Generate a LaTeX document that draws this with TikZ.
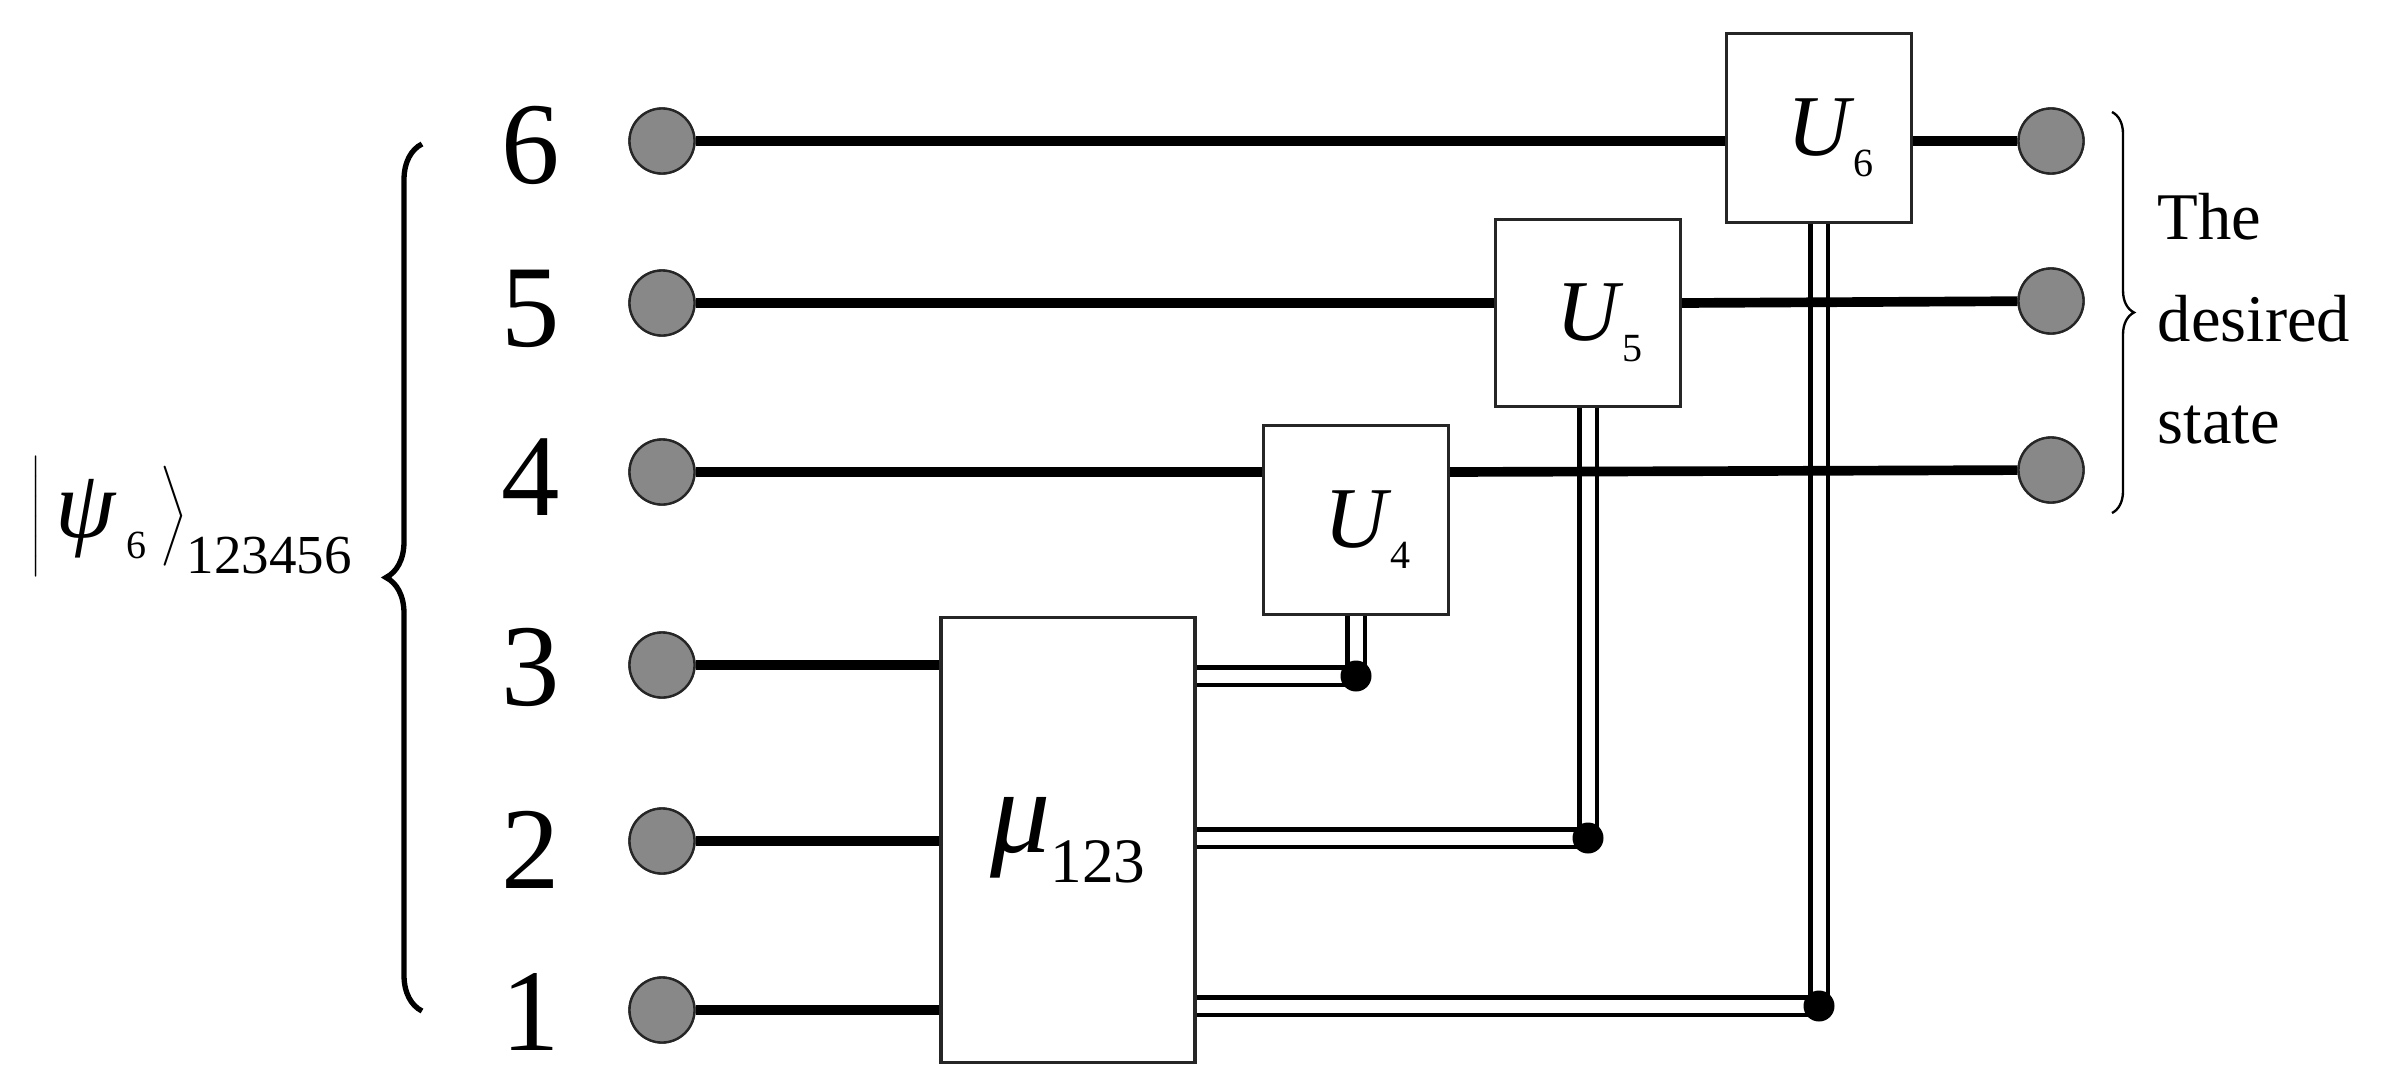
\documentclass[tikz,border=0pt]{standalone}
\usepackage{fontspec}
\setmainfont{Liberation Serif}
\usetikzlibrary{decorations.pathreplacing}
\tikzset{
  wire/.style={line width=2.9pt, black},
  qbit/.style={circle, draw=black!85, line width=0.7pt, fill={rgb,255:red,136;green,136;blue,136}, minimum size=19.5pt, inner sep=0pt},
  gatebox/.style={draw=black!85, line width=1pt, fill=white, inner sep=0pt},
  cwire/.style={draw=black, double=white, double distance=3.9pt, line width=1.35pt},
  cdot/.style={circle, fill=black, minimum size=9.3pt, inner sep=0pt},
  numlabel/.style={font=\fontsize{35}{40}\selectfont, inner sep=0pt},
  bracestyle/.style={decorate, decoration={brace, amplitude=#1}},
}
\newcommand{\ugate}[1]{{\fontsize{26}{30}\selectfont\itshape U}\rlap{\kern1pt\raisebox{-6.3pt}[0pt][0pt]{\fontsize{12}{14}\selectfont #1}}}
\begin{document}
\begin{tikzpicture}[x=0.3pt,y=-0.3pt]
\useasboundingbox (0,0) rectangle (2381,1092);
\fill[white] (0,0) rectangle (2381,1092);

% coordinates of classical wire levels
\coordinate (c3) at (0,676);
\coordinate (c2) at (0,838);
\coordinate (c1) at (0,1006);

% gate boxes (placed first for naming, drawn again later on top)
\path (1068,840) node[gatebox, minimum width=76.2pt, minimum height=133.5pt] (mu) {};
\path (1356,520) node[gatebox, minimum width=55.5pt, minimum height=56.7pt] (u4) {};
\path (1588,313) node[gatebox, minimum width=55.5pt, minimum height=56.1pt] (u5) {};
\path (1819,128) node[gatebox, minimum width=55.5pt, minimum height=56.7pt] (u6) {};

% qubit circles
\node[qbit] (q6) at (662,141) {};
\node[qbit] (q5) at (662,303) {};
\node[qbit] (q4) at (662,472) {};
\node[qbit] (q3) at (662,665) {};
\node[qbit] (q2) at (662,841) {};
\node[qbit] (q1) at (662,1010) {};
\node[qbit] (r6) at (2051,141) {};
\node[qbit] (r5) at (2051,301) {};
\node[qbit] (r4) at (2051,470) {};

% classical double wires
\draw[cwire] (mu.east |- c3) -| (u4.south);
\draw[cwire] (mu.east |- c2) -| (u5.south);
\draw[cwire] (mu.east |- c1) -| (u6.south);

% quantum wires
\draw[wire] (q6) -- (q6 -| u6.west);
\draw[wire] (q6 -| u6.east) -- (r6);
\draw[wire] (q5) -- (q5 -| u5.west);
\draw[wire] (q5 -| u5.east) -- (r5);
\draw[wire] (q4) -- (q4 -| u4.west);
\draw[wire] (q4 -| u4.east) -- (r4);
\draw[wire] (q3) -- (q3 -| mu.west);
\draw[wire] (q2) -- (q2 -| mu.west);
\draw[wire] (q1) -- (q1 -| mu.west);

% boxes with labels on top
\node[gatebox, minimum width=76.2pt, minimum height=133.5pt] at (mu) {{\fontsize{36}{40}\selectfont\itshape μ}\raisebox{-9pt}{\fontsize{19}{22}\selectfont 123}};
\node[gatebox, minimum width=55.5pt, minimum height=56.7pt] at (u4) {\ugate{4}};
\node[gatebox, minimum width=55.5pt, minimum height=56.1pt] at (u5) {\ugate{5}};
\node[gatebox, minimum width=55.5pt, minimum height=56.7pt] at (u6) {\ugate{6}};

% circles on top of wire ends
\foreach \q in {q1,q2,q3,q4,q5,q6,r4,r5,r6} \node[qbit] at (\q) {};

% junction dots
\node[cdot] (d3) at (u4.south |- c3) {};
\node[cdot] (d2) at (u5.south |- c2) {};
\node[cdot] (d1) at (u6.south |- c1) {};

% line numbers
\node[numlabel] (n6) at (531,145) {6};
\node[numlabel] (n5) at (531,309) {5};
\node[numlabel] (n4) at (531,477) {4};
\node[numlabel] (n3) at (531,667) {3};
\node[numlabel] (n2) at (531,850) {2};
\node[numlabel] (n1) at (531,1012) {1};

% braces
\draw[bracestyle=10.8pt, line width=1.6pt] (422,1011) -- (422,144);
\draw[bracestyle=6.6pt, line width=0.7pt] (2112,112) -- (2112,513);

% state label
\node[anchor=base west, inner sep=0pt, font=\fontsize{24}{30}\selectfont] (psi) at (30,537)
  {$\left|\rule[-10.7pt]{0pt}{35.4pt}\kern4pt\hbox{\fontsize{29}{34}\selectfont\itshape ψ}\kern3.5pt\raisebox{-6.3pt}{\fontsize{12}{14}\selectfont 6}\kern4pt\right\rangle$\raisebox{-11pt}{\fontsize{16.5}{20}\selectfont 123456}};

% output text
\node[anchor=north west, inner sep=0pt, align=left, font=\fontsize{20}{30.6}\selectfont] (out) at (2157,193) {The\\desired\\state};
\end{tikzpicture}
\end{document}
